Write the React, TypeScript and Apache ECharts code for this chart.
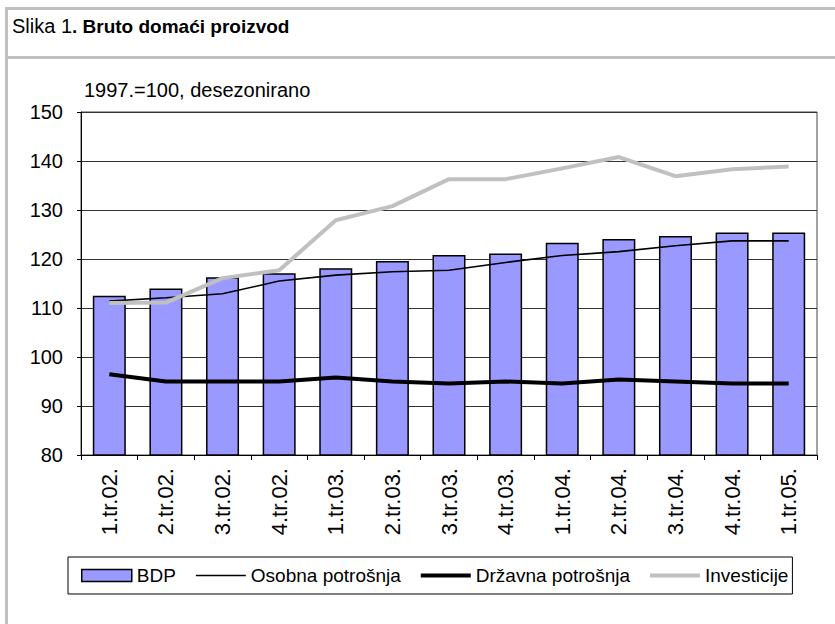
import React, { useEffect, useRef } from "react";
import * as echarts from "echarts";

const categories = ["1.tr.02.", "2.tr.02.", "3.tr.02.", "4.tr.02.", "1.tr.03.", "2.tr.03.", "3.tr.03.", "4.tr.03.", "1.tr.04.", "2.tr.04.", "3.tr.04.", "4.tr.04.", "1.tr.05."];
const bdp = [112.5, 114.0, 116.3, 117.1, 118.1, 119.6, 120.8, 121.1, 123.3, 124.1, 124.7, 125.4, 125.4];
const osobna = [111.4, 112.1, 112.9, 115.5, 116.7, 117.4, 117.7, 119.3, 120.7, 121.5, 122.7, 123.7, 123.7];
const drzavna = [96.5, 95.0, 95.0, 95.0, 95.8, 95.0, 94.6, 95.0, 94.6, 95.4, 95.0, 94.6, 94.6];
const investicije = [111.0, 111.1, 116.1, 117.7, 127.9, 130.8, 136.3, 136.3, 138.5, 140.8, 136.9, 138.3, 138.9];
const seriesNames = ["BDP", "Osobna potrošnja", "Državna potrošnja", "Investicije"];

const FONT = "'Liberation Sans', Arial, sans-serif";

export default function App() {
  const ref = useRef<HTMLDivElement>(null);
  useEffect(() => {
    document.body.style.margin = "0";
    const chart = echarts.init(ref.current!, null, { renderer: "svg" });
    chart.setOption({
      animation: false,
      backgroundColor: "#fff",
      textStyle: { fontFamily: FONT },
      grid: {
        left: 81,
        right: 18,
        top: 112,
        bottom: 169,
        show: true,
        borderColor: "#444",
        borderWidth: 1,
        containLabel: false,
      },
      graphic: [
        { type: "rect", shape: { x: 5, y: 7, width: 830, height: 3 }, style: { fill: "#c0c0c0" }, silent: true },
        { type: "rect", shape: { x: 5, y: 7, width: 3, height: 617 }, style: { fill: "#c0c0c0" }, silent: true },
        { type: "rect", shape: { x: 5, y: 56, width: 830, height: 3 }, style: { fill: "#c0c0c0" }, silent: true },
        {
          type: "text",
          x: 12,
          y: 16,
          style: {
            text: "{a|Slika 1}{b|. Bruto domaći proizvod}",
            rich: {
              a: { fontFamily: FONT, fontSize: 20, fill: "#000", fontWeight: "normal" },
              b: { fontFamily: FONT, fontSize: 19, fill: "#000", fontWeight: "bold" },
            },
            verticalAlign: "top",
          },
        },
        {
          type: "text",
          x: 84,
          y: 80,
          style: {
            text: "1997.=100, desezonirano",
            fontFamily: FONT,
            fontSize: 20,
            fill: "#000",
            verticalAlign: "top",
          },
        },
      ],
      legend: {
        left: 68,
        top: 557,
        orient: "horizontal",
        padding: [9, 4, 9, 13],
        itemGap: 20,
        itemWidth: 50,
        itemHeight: 12,
        borderColor: "#000",
        borderWidth: 1,
        textStyle: { fontFamily: FONT, fontSize: 19, color: "#000" },
        data: [
          { name: seriesNames[0], icon: "rect", itemStyle: { color: "#9999ff", borderColor: "#000", borderWidth: 1.5 } },
          { name: seriesNames[1], icon: "path://M0,0H50V1.6H0Z", itemStyle: { color: "#000", borderWidth: 0 } },
          { name: seriesNames[2], icon: "path://M0,0H50V4H0Z", itemStyle: { color: "#000", borderWidth: 0 } },
          { name: seriesNames[3], icon: "path://M0,0H50V4H0Z", itemStyle: { color: "#c0c0c0", borderWidth: 0 } },
        ],
      },
      xAxis: {
        type: "category",
        data: categories,
        boundaryGap: true,
        axisLine: { show: true, lineStyle: { color: "#000", width: 1 } },
        axisTick: { show: true, length: 5, lineStyle: { color: "#000" } },
        axisLabel: {
          rotate: 90,
          fontSize: 22,
          fontFamily: FONT,
          color: "#000",
          margin: 13,
          interval: 0,
        },
        splitLine: { show: false },
      },
      yAxis: {
        type: "value",
        min: 80,
        max: 150,
        interval: 10,
        axisLine: { show: true, lineStyle: { color: "#000", width: 1 } },
        axisTick: { show: true, length: 4, lineStyle: { color: "#000" } },
        axisLabel: { fontSize: 20, fontFamily: FONT, color: "#000", margin: 18 },
        splitLine: { show: true, lineStyle: { color: "#333", width: 1 } },
      },
      series: [
        {
          name: seriesNames[0],
          type: "bar",
          data: bdp,
          barWidth: 33,
          itemStyle: { color: "#9999ff", borderColor: "#000", borderWidth: 1.5 },
        },
        {
          name: seriesNames[1],
          type: "line",
          data: osobna,
          symbol: "none",
          lineStyle: { color: "#000", width: 1.6 },
          itemStyle: { color: "#000" },
        },
        {
          name: seriesNames[2],
          type: "line",
          data: drzavna,
          symbol: "none",
          lineStyle: { color: "#000", width: 4 },
          itemStyle: { color: "#000" },
        },
        {
          name: seriesNames[3],
          type: "line",
          data: investicije,
          symbol: "none",
          lineStyle: { color: "#c0c0c0", width: 4 },
          itemStyle: { color: "#c0c0c0" },
        },
      ],
    });
    return () => chart.dispose();
  }, []);
  return <div ref={ref} style={{ width: 835, height: 624 }} />;
}
